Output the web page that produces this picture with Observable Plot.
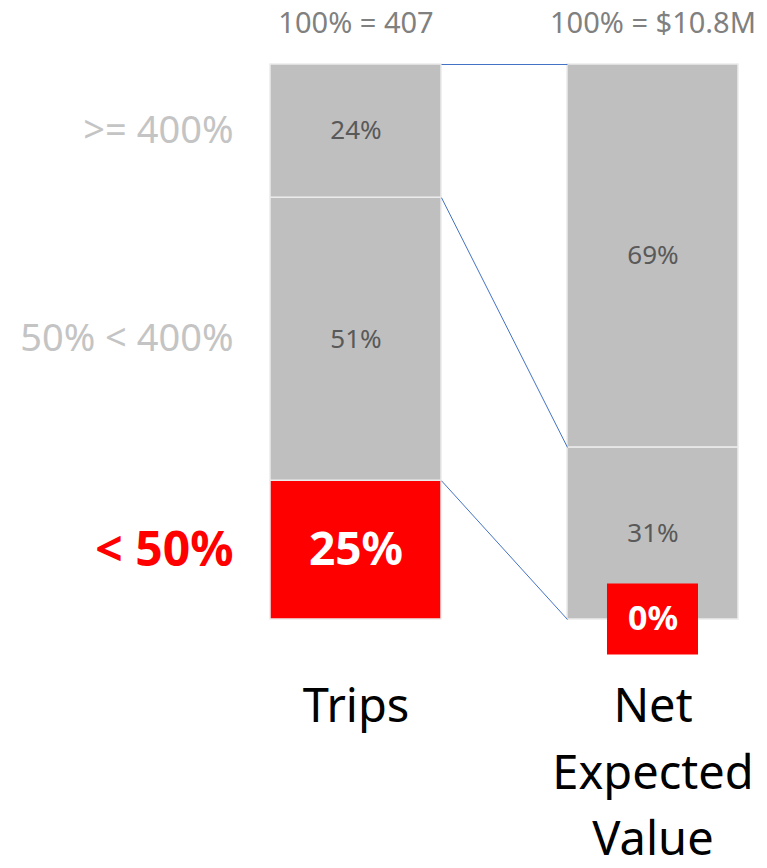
<!DOCTYPE html>
<html>
<head>
<meta charset="utf-8">
<script src="https://cdn.jsdelivr.net/npm/d3@7"></script>
<script src="https://cdn.jsdelivr.net/npm/@observablehq/plot@0.6"></script>
<style>
  html, body { margin: 0; padding: 0; background: #fff; }
  #chart svg { display: block; font-family: "Noto Sans", sans-serif; }
</style>
</head>
<body>
<div id="chart"></div>
<script>
// ---- data ----
const categories = [">= 400%", "50% < 400%", "< 50%"];   // top to bottom
const highlight = "< 50%";
const bars = ["Trips", "Net Expected Value"];
const barLabels = ["Trips", "Net\nExpected\nValue"];
const totals = ["100% = 407", "100% = $10.8M"];
const tripsShares = [24, 51, 25];   // same order as categories
const nevShares = [69, 31, 0];

// ---- derived table ----
const hw = 0.2879; // half bar width in index units
const seriesByBar = [tripsShares, nevShares];
const rows = [];
bars.forEach((b, i) => {
  let acc = 0;
  for (let k = categories.length - 1; k >= 0; k--) {
    const v = seriesByBar[i][k];
    rows.push({bar: b, i, cat: categories[k], value: v, y1: acc, y2: acc + v,
               mid: acc + v / 2, hi: categories[k] === highlight});
    acc += v;
  }
});
const links = categories.map(c => {
  const a = rows.find(r => r.i === 0 && r.cat === c);
  const b = rows.find(r => r.i === 1 && r.cat === c);
  return {c, from: a.y2, to: b.y2};
});
const tripsRows = rows.filter(r => r.i === 0);
const inside = rows.filter(r => r.value > 0);
const tiny = rows.filter(r => r.value === 0);

const chart = Plot.plot({
  width: 767,
  height: 868,
  marginLeft: 270,
  marginRight: 29,
  marginTop: 64,
  marginBottom: 249,
  x: {type: "linear", domain: [-hw, 1 + hw], axis: null},
  y: {domain: [0, 100], axis: null},
  marks: [
    Plot.rect(rows.filter(r => r.value > 0), {
      x1: d => d.i - hw, x2: d => d.i + hw, y1: "y1", y2: "y2",
      fill: d => d.hi ? "#ff0000" : "#bfbfbf",
      stroke: "#ececec", strokeWidth: 1.5
    }),
    Plot.link(links, {
      x1: () => hw, x2: () => 1 - hw, y1: "from", y2: "to",
      stroke: "#4472c4", strokeWidth: 1
    }),
    Plot.text(inside.filter(d => !d.hi), {
      x: "i", y: "mid", text: d => d.value + "%",
      fill: "#595959", fontSize: 26
    }),
    Plot.text(inside.filter(d => d.hi), {
      x: "i", y: "mid", text: d => d.value + "%",
      fill: "#ffffff", fontSize: 46, fontWeight: "bold"
    }),
    Plot.rect(tiny, {
      x1: "i", x2: "i", y1: "y1", y2: "y1",
      insetLeft: -45.5, insetRight: -45.5, insetTop: -35.5, insetBottom: -35.5,
      fill: "#ff0000"
    }),
    Plot.text(tiny, {
      x: "i", y: "y1", text: d => d.value + "%",
      fill: "#ffffff", fontSize: 34, fontWeight: "bold"
    }),
    Plot.text(tripsRows.filter(d => !d.hi), {
      x: () => -hw, y: "mid", text: "cat", dx: -37, textAnchor: "end",
      fill: "#c4c4c4", fontSize: 38
    }),
    Plot.text(tripsRows.filter(d => d.hi), {
      x: () => -hw, y: "mid", text: "cat", dx: -37, textAnchor: "end",
      fill: "#ff0000", fontSize: 48, fontWeight: "bold"
    }),
    Plot.text(totals, {
      x: (d, i) => i, y: () => 100, text: d => d, dy: -41,
      fill: "#808080", fontSize: 29
    }),
    Plot.text(barLabels, {
      x: (d, i) => i, y: () => 0, text: d => d, lineAnchor: "top", dy: 55,
      lineHeight: 1.42, fill: "#000000", fontSize: 47
    })
  ]
});
document.getElementById("chart").appendChild(chart);
</script>
</body>
</html>
